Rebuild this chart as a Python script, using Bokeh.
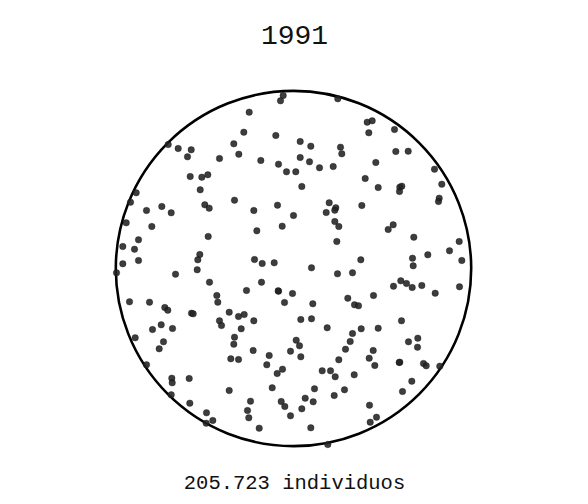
from bokeh.plotting import figure
from bokeh.models import Label, Range1d
from bokeh.embed import file_html
from bokeh.resources import INLINE

TITLE = "1991"
CAPTION = "205.723 individuos"
CIRCLE_R = 177.7

# each dot = ~1,000 individuals; position relative to the circle centre
xs = [
    -125.3, -115.3, -102.3, -106, -74, -59.7, -103.3, -91.7, -85.7, -93.3, -157.3, -163, -131.7, -147, -88.7, -84.3, -59,
    -10.3, -13, 44.3, -44.3, -49.7, -17.7, -54.7, 6.7, 17.3, 47, 48.3, -32.7, -15, 6.7, 16, 26, 39.7, -7, 2.3, 8.3, -16, 35.7, 42.3, -39.7,
    73.7, 78.7, 75.3, 101, 102.3, 114.7, 82.3, 71.7, 84.7, 106.3, 108.3, 106, 141, 148.3, 145.7, 145, 68.3,
    -122.3, -167.3, -141.7, -155, -170.7, -159, -85.3, -93.7, -95.7, -170.7, -155, -96.3, -177, -118, -84, -76.7, -75.7, -164, -144,
    -128.7, -125.7, -102, -100.3, -64.3, -74, -72, -132.3, -141, -121,
    0, 32.7, 41.3, -11.3, -36.7, 41.3, 45.3, 43.3, -39, -31.3, -19.3, 18, 44, 59, -32, -47, -15, -15.3, -1, -9, 19.3, 54.3, 61,
    -55, -49.3, -39.7, 7.3, 18, 33.7, -52.3,
    94.7, 99.7, 120.3, 165.7, 156, 168.3, 67.3, 119, 119.7, 134.3, 100, 107.3, 113, 118.7, 128.3, 141.7, 166, 80, 65, 108, 67.7, 84.7,
    -158.3, -130, -134.3, -147, -121.7, -121.3, -104.3, -122.3, -103.7, -87, -80.7, -87.3, -59, -59.7, -62.7, -64.3,
    -55, -40.3, -24.3, -26.7, 2.7, 6, -3, 7.3, -11, -16.3, 59, 56.7, 52, 45.3, 28.7, 37, 41.7, 60.7, -21.3, -43, -46, -44.7,
    -12.3, -8.7, -3, 21, 11.7, 19.7, 8.3, 40.7, 51, -34.3, 17.3, 34.3,
    115, 124.3, 124, 79.7, 75.7, 81.3, 105.7, 106.3, 130, 132.7, 146.3, 118.3, 109, 76, 83, 76.7,
]
ys = [
    124, 120, 118.7, 111.7, 110, 124.7, 92, 91.3, 93.7, 78.7, 75.7, 66.3, 62, 58, 63.7, 60.3, 68.3,
    173, 167.7, 169.7, 156.3, 136.3, 133, 114.3, 127, 122.3, 121.3, 114.7, 108, 104.3, 111, 106.7, 100.7, 102, 96.7, 96.7, 82, 63.3, 65.7, 60.7, 58,
    146.3, 147.7, 135.7, 139, 117, 117.3, 106, 90, 81, 81.3, 82.3, 77, 99.3, 84.3, 70.3, 67, 63,
    55.7, 45.7, 42, 28.7, 22, 19.3, 32, 14, 8.7, 4.7, 8, -1.3, -4.3, -5.7, -13.7, -27, -33.7, -33.3, -33.7,
    -39, -41.7, -44.7, -45.3, -43.7, -52.3, -57, -56.3, -61, -60,
    53, 56, 58.3, 42.3, 37.7, 47, 42, 27, 9, 5, 5.7, 0.7, -5.3, -4.3, -13.7, -22, -22.7, -22.3, -25, -34, -35.3, -29.7, -36.3,
    -48, -46, -52.3, -51, -50.3, -59.3, -60.3,
    39, 43.7, 31.3, 27, 17.7, 8, 8.7, 10.3, 2.7, 13.7, -17.7, -12.3, -15, -19, -17, -24.7, -18.3, -27, -37.3, -52.3, -60.3, -59.7,
    -69.3, -73.3, -80.3, -96.3, -109.7, -114.3, -110, -126.3, -134.7, -144.3, -152, -154.7, -68.7, -75.7, -90.3, -122,
    -91, -82, -87, -96.3, -71.7, -77.3, -82.7, -88.3, -100.7, -105, -65, -73, -80.7, -91.3, -102.3, -102.3, -108.3, -106.3, -119.3, -132.7, -142, -149.3,
    -133, -138, -147.3, -120.3, -129.7, -133.3, -140.3, -127, -121.3, -159.7, -159.3, -176,
    -73.3, -69.7, -78.7, -82, -89.7, -97, -94, -93.7, -95, -97.3, -97.7, -112.7, -123, -136.7, -148.7, -153.7,
]

p = figure(width=588, height=504, output_backend="svg", toolbar_location=None,
           x_range=Range1d(-293, 295), y_range=Range1d(-236, 268),
           min_border=0, min_border_left=0, min_border_right=0,
           min_border_top=0, min_border_bottom=0)
p.axis.visible = False
p.xgrid.visible = False
p.ygrid.visible = False
p.outline_line_color = None
p.background_fill_color = "white"
p.border_fill_color = "white"

p.circle(x=[0], y=[0], radius=CIRCLE_R, fill_color=None, line_color="black", line_width=2.6)
p.scatter(x=xs, y=ys, size=6.5, fill_color="#222222", fill_alpha=0.88,
          line_color="#111111", line_alpha=0.6, line_width=0.6)

FONT = "Liberation Mono"
p.add_layout(Label(x=1, y=234, text=TITLE, text_align="center", text_baseline="middle",
                   text_font=FONT, text_font_size="28px", text_color="#111111"))
p.add_layout(Label(x=1, y=-215, text=CAPTION, text_align="center", text_baseline="middle",
                   text_font=FONT, text_font_size="20.5px", text_color="#111111"))

open("out.html", "w").write(file_html(p, INLINE))
